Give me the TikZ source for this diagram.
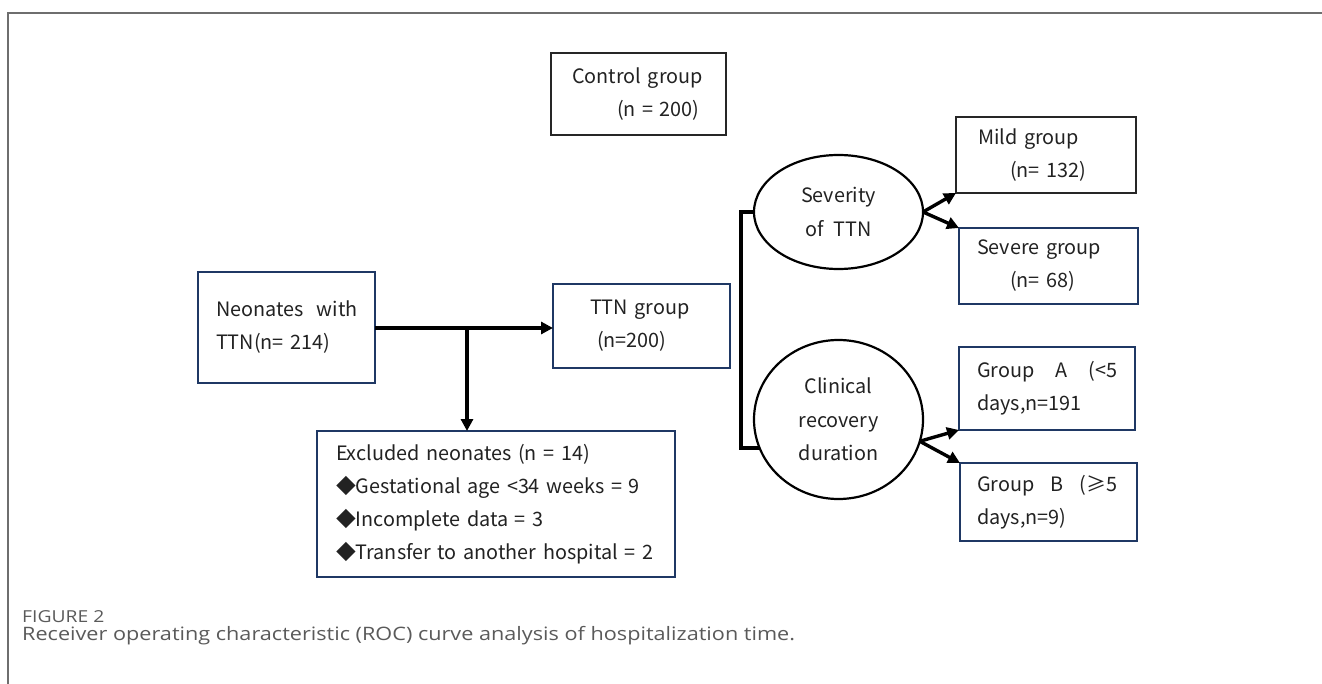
\documentclass[tikz,border=0pt]{standalone}
\usepackage{fontspec}
\setmainfont{Noto Sans CJK SC}
\newfontfamily\capfont[FakeStretch=1.17]{Open Sans}
\usetikzlibrary{shapes.geometric,arrows.meta}
\definecolor{navy}{HTML}{1F3864}
\definecolor{txt}{HTML}{222222}
\definecolor{framecol}{HTML}{6E6E6E}
\definecolor{capcol}{HTML}{5A5A5A}
\begin{document}
\begin{tikzpicture}[x=1pt,y=-1pt,
  bluebox/.style={draw=navy,line width=2.2pt,inner ysep=0pt,outer sep=0pt,
    text=txt,align=left,font=\fontsize{19.8}{33}\selectfont},
  blackbox/.style={bluebox,draw=black!85},
  oval/.style={ellipse,draw=black,line width=2.2pt,inner sep=0pt,outer sep=0pt,
    text=txt,align=center,font=\fontsize{19.8}{33.5}\selectfont},
  conn/.style={line width=3.4pt,black},
  arr/.style={conn,-{Triangle[length=12pt,width=12pt]}}
]
\useasboundingbox (0,0) rectangle (1322,684);
\fill[white] (0,0) rectangle (1322,684);
% frame
\draw[framecol,line width=1.5pt] (8,684) -- (8,13) -- (1322,13);

% boxes
\node[blackbox,minimum width=175,minimum height=82,inner xsep=21,text width=133]
  (ctrl) at (638.5,94) {Control~group\\\hspace*{45pt}(n~=~200)};
\node[bluebox,minimum width=177,minimum height=111,inner xsep=18,text width=141]
  (neo) at (286.5,327.5) {Neonates~~with\\TTN(n=~214)};
\node[bluebox,minimum width=177,minimum height=84,inner xsep=37,text width=103]
  (ttn) at (641.5,326) {TTN~group\\\hspace*{7pt}(n=200)};
\node[bluebox,minimum width=358,minimum height=146,inner xsep=19,text width=320]
  (excl) at (496,504) {Excluded~neonates~(n~=~14)\\◆Gestational~age~<34~weeks~=~9\\◆Incomplete~data~=~3\\◆Transfer~to~another~hospital~=~2};

\node[oval,minimum width=169,minimum height=114] (sev) at (838.5,212) {Severity\\of\hspace{0.3em}~TTN};
\node[oval,minimum width=169,minimum height=159] (clin) at (838.5,419.5) {Clinical\\recovery\\duration};

\node[blackbox,minimum width=180,minimum height=76,inner xsep=22,text width=136]
  (mild) at (1046,155) {Mild~group\\\hspace*{32pt}(n=~132)};
\node[bluebox,minimum width=179,minimum height=76,inner xsep=18,text width=143]
  (severe) at (1048.5,266) {Severe~group\\\hspace*{33pt}(n=~68)};
\node[bluebox,minimum width=176,minimum height=83,inner xsep=18,text width=140]
  (ga) at (1047,388.5) {\makebox[140pt][l]{Group\hfill A\hfill (<5}\\days,n=191};
\node[bluebox,minimum width=177,minimum height=78,inner xsep=17,text width=143]
  (gb) at (1048.5,502) {\makebox[140pt][l]{Group\hfill B\hfill (≥5}\\days,n=9)};

% connectors
\coordinate (split) at (467,328);
\coordinate (brk) at (741,212);
\draw[arr] (neo.east |- split) -- (ttn.west |- split);
\draw[arr] (split) -- (excl.north -| split);
\draw[conn] (sev.west) -- (brk) |- (clin.200);
\draw[arr] (sev.east) -- (mild.south west);
\draw[arr] (sev.east) -- (severe.north west);
\draw[arr] (clin.-15) -- (ga.south west);
\draw[arr] (clin.-15) -- (gb.north west);

% caption
\node[anchor=base west,inner sep=0pt,text=capcol,font=\capfont\fontsize{16.5}{17}\selectfont]
  (figlab) at (22,622) {FIGURE 2};
\node[anchor=base west,inner sep=0pt,text=capcol,font=\capfont\fontsize{18.5}{20}\selectfont]
  (figcap) at (22,640) {Receiver operating characteristic (ROC) curve analysis of hospitalization time.};
\end{tikzpicture}
\end{document}
